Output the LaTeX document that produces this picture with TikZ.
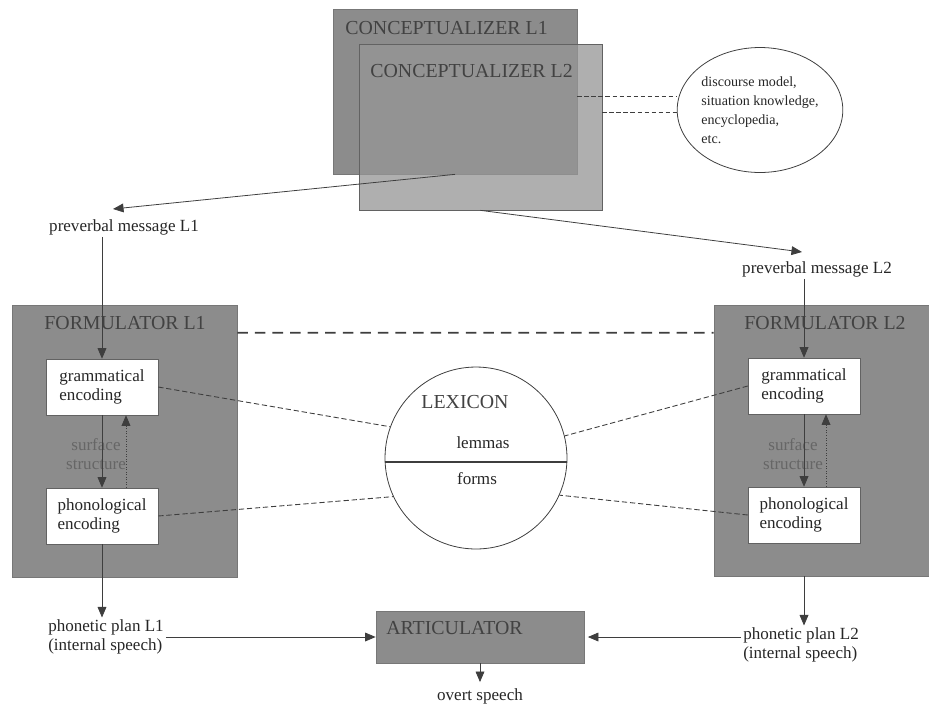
\documentclass[tikz,border=0pt]{standalone}
\usepackage{fontspec}
\setmainfont{Liberation Serif}
\usetikzlibrary{arrows.meta,shapes.geometric,fit,calc}
\definecolor{panelgray}{RGB}{140,140,140}
\definecolor{overgray}{RGB}{150,150,150}
\definecolor{labgray}{RGB}{66,66,66}
\definecolor{linegray}{RGB}{62,62,62}

\begin{document}
\begin{tikzpicture}[x=0.02cm,y=-0.02cm,
    every node/.style={font=\fontsize{9.7}{11}\selectfont,text=black!85},
    big/.style={font=\fontsize{11.3}{13}\selectfont,text=labgray,inner sep=0pt},
    panel/.style={fill=panelgray,draw=panelgray!85!black,line width=0.4pt,inner sep=0pt},
    inbox/.style={fill=white,draw=panelgray!70!black,line width=0.3pt,align=left,
        minimum width=2.24cm,minimum height=1.12cm},
    plain/.style={align=left,inner sep=1pt},
    arr/.style={draw=linegray,line width=0.45pt,-{Triangle[length=6pt,width=5pt]}},
    link/.style={draw=linegray,line width=0.5pt,dash pattern=on 2.6pt off 1.4pt}]
    \useasboundingbox (0,0) rectangle (929,704);

    \node[panel,fit={(333,9) (577,174)}] (c1) {};
    \node[panel,fill=overgray,fill opacity=0.76,draw=panelgray!70!black,
        fit={(359,44) (602,210)}] (c2) {};
    \node[big,anchor=west] (c1t) at (345,28) {CONCEPTUALIZER L1};
    \node[big,anchor=west] (c2t) at (370,71) {CONCEPTUALIZER L2};
    \node[ellipse,draw=linegray,line width=0.45pt,minimum width=2.92cm,minimum height=2.5cm,
        align=left,font=\fontsize{8}{10.8}\selectfont,inner sep=0pt] (e) at (760,110)
        {discourse model,\\situation knowledge,\\encyclopedia,\\etc.};

    \node[plain] (m1) at (124,227) {preverbal message L1};
    \node[plain] (m2) at (817,269) {preverbal message L2};

    \node[panel,fit={(12,305) (237,577)}] (f1) {};
    \node[panel,fit={(714,305) (929,576)}] (f2) {};
    \node[big] (f1t) at (125,323) {FORMULATOR L1};
    \node[big] (f2t) at (825,323) {FORMULATOR L2};
    \node[inbox] (g1) at (102,387) {grammatical\\encoding};
    \node[inbox] (p1) at (102,516) {phonological\\encoding};
    \node[inbox] (g2) at (804,386) {grammatical\\encoding};
    \node[inbox] (p2) at (804,515) {phonological\\encoding};
    \node[plain,text=black!60,align=center] (s1) at (96,454) {surface\\structure};
    \node[plain,text=black!60,align=center] (s2) at (793,454) {surface\\structure};

    \node[circle,draw=linegray,line width=0.45pt,minimum size=3.64cm,inner sep=0pt] (lx) at (476,458) {};
    \node[big] (lxt) at (465,402) {LEXICON};
    \node (le) at (483,443) {lemmas};
    \node (fo) at (477,479) {forms};

    \node[plain] (q1) at (106,637) {phonetic plan L1\\(internal speech)};
    \node[plain] (q2) at (801,645) {phonetic plan L2\\(internal speech)};
    \node[panel,fit={(376,611) (584,663)}] (a) {};
    \node[big,anchor=west] (at) at (386,628) {ARTICULATOR};
    \node (o) at (480,696) {overt speech};
    \coordinate (t1) at (113,209);
    \coordinate (t2) at (802,252);

    \draw[link] ([yshift=-1.76cm]c1.north east) -- ([yshift=-1.76cm]c1.north east -| e.west);
    \draw[link] ([yshift=-1.38cm]c2.north east) -- ([yshift=-1.38cm]c2.north east -| e.west);
    \draw[arr] (c1.south) -- (t1);
    \draw[arr] (c2.south) -- (t2);
    \draw[arr] (g1.north |- m1.south) -- (g1.north);
    \draw[arr] (g2.north |- m2.south) -- (g2.north);
    \draw[link,line width=1pt,dash pattern=on 6pt off 4pt] ([yshift=-0.56cm]f1.north east) -- ([yshift=-0.56cm]f2.north west);
    \draw[arr] (g1.south) -- (p1.north);
    \draw[arr,densely dotted] ([xshift=0.48cm]p1.north) -- ([xshift=0.48cm]g1.south);
    \draw[arr] (g2.south) -- (p2.north);
    \draw[arr,densely dotted] ([xshift=0.44cm]p2.north) -- ([xshift=0.44cm]g2.south);
    \draw[link,dash pattern=on 3pt off 1.6pt] (g1.east) -- (lx.160);
    \draw[link,dash pattern=on 3pt off 1.6pt] (p1.east) -- (lx.205);
    \draw[link,dash pattern=on 3pt off 1.6pt] (g2.west) -- (lx.14);
    \draw[link,dash pattern=on 3pt off 1.6pt] (p2.west) -- (lx.336);
    \draw[draw=linegray,line width=0.6pt] (lx.west |- 0,462) -- (lx.east |- 0,462);
    \draw[arr] (p1.south) -- (p1.south |- q1.north);
    \draw[arr] (f2.south -| p2.south) -- (p2.south |- q2.north);
    \draw[arr] (q1.east) -- (a.west);
    \draw[arr,shorten >=2pt] (q2.west |- a.east) -- (a.east);
    \draw[arr] (a.south) -- (o.north);
\end{tikzpicture}
\end{document}
